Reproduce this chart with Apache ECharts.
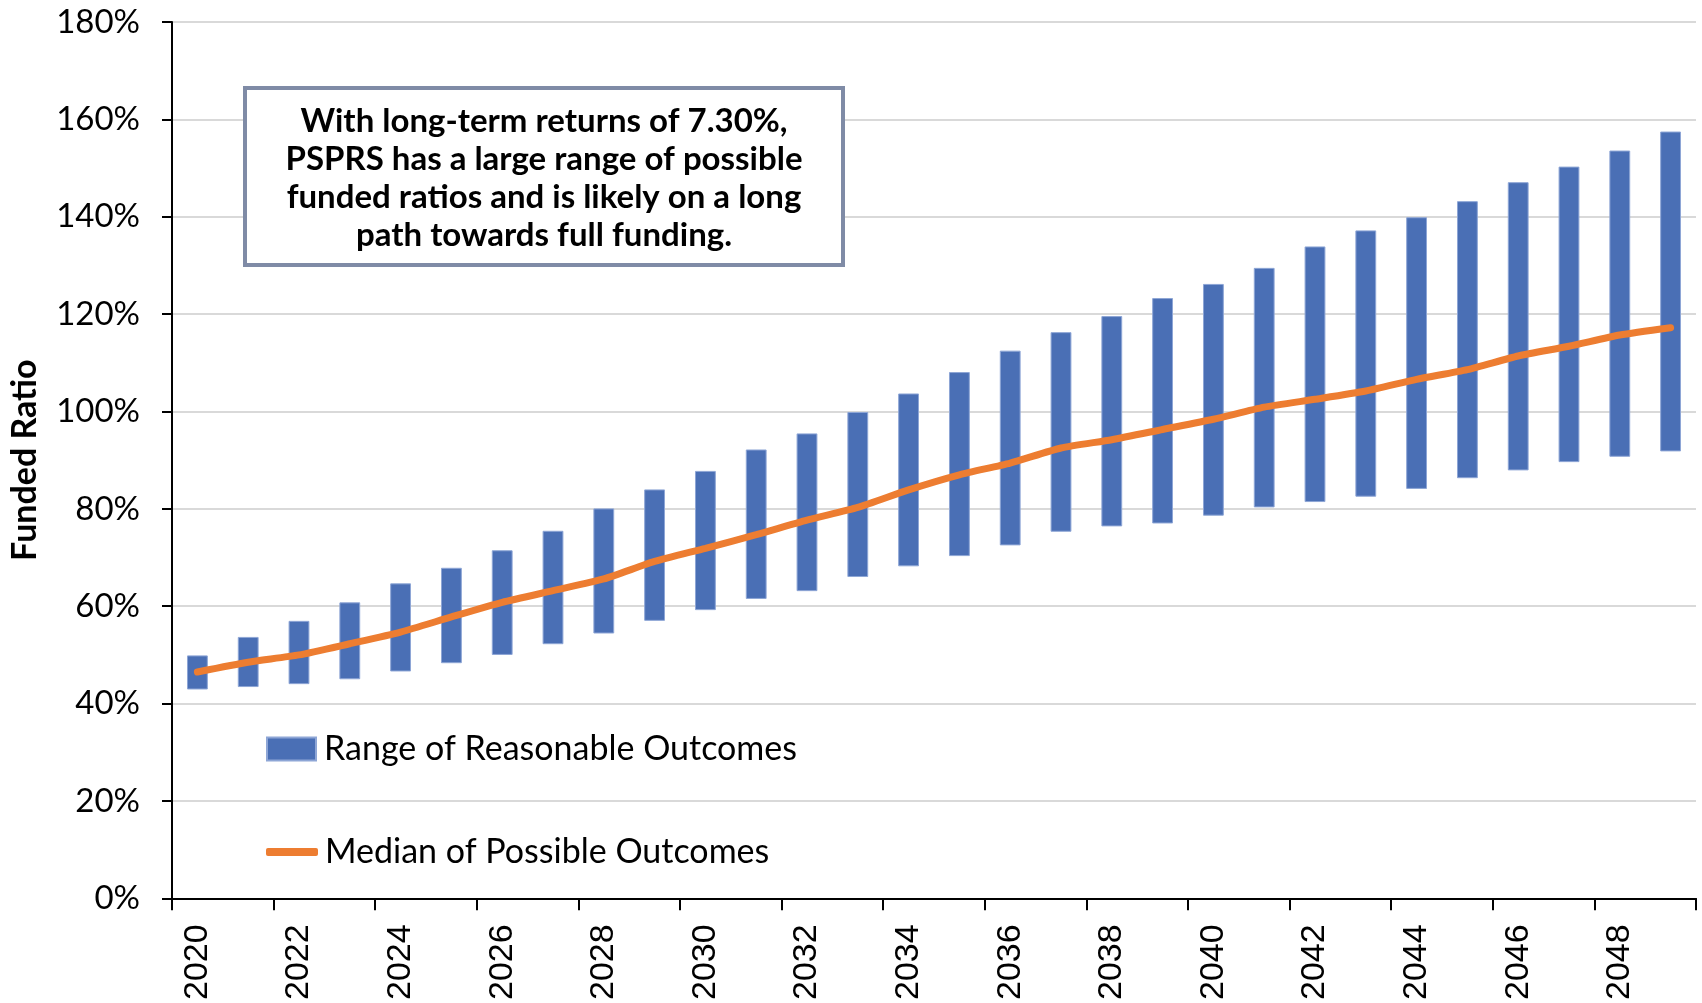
<!DOCTYPE html>
<html>
<head>
<meta charset="utf-8">
<script src="https://cdn.jsdelivr.net/npm/echarts@6/dist/echarts.min.js"></script>
<style>
  html, body { margin: 0; padding: 0; background: #fff; }
  #chart { width: 1702px; height: 1003px; }
</style>
</head>
<body>
<div id="chart"></div>
<script>
var years = ['2020', '2021', '2022', '2023', '2024', '2025', '2026', '2027', '2028', '2029',
  '2030', '2031', '2032', '2033', '2034', '2035', '2036', '2037', '2038', '2039',
  '2040', '2041', '2042', '2043', '2044', '2045', '2046', '2047', '2048', '2049']

// range of reasonable outcomes (funded ratio, %)
var low = [42.9, 43.4, 44.0, 45.0, 46.6, 48.3, 50.0, 52.2, 54.4, 57.0,
  59.2, 61.5, 63.1, 66.0, 68.2, 70.3, 72.5, 75.3, 76.4, 77.0,
  78.6, 80.3, 81.4, 82.5, 84.1, 86.3, 87.9, 89.6, 90.7, 91.8]
var high = [49.9, 53.7, 57.0, 60.8, 64.7, 67.9, 71.5, 75.5, 80.1, 84.0,
  87.8, 92.2, 95.5, 99.9, 103.7, 108.1, 112.5, 116.3, 119.6, 123.3,
  126.2, 129.5, 133.9, 137.2, 139.9, 143.2, 147.1, 150.3, 153.6, 157.5]
// median of possible outcomes
var median = [46.5, 48.5, 50.0, 52.3, 54.7, 57.8, 60.8, 63.2, 65.6, 69.2,
  71.9, 74.7, 77.7, 80.3, 83.9, 87.0, 89.4, 92.5, 94.2, 96.3,
  98.4, 100.9, 102.5, 104.2, 106.6, 108.6, 111.4, 113.4, 115.7, 117.2]

var noteLines = [
  'With long-term returns of 7.30%,',
  'PSPRS has a large range of possible',
  'funded ratios and is likely on a long',
  'path towards full funding.'
]

var span = []
for (let i = 0; i < low.length; i++) {
  span.push(+(high[i] - low[i]).toFixed(1))
}

var myChart = echarts.init(document.getElementById('chart'))
var option = {
  animation: false,
  grid: {
    left: 170,
    right: 6,
    top: 22,
    bottom: 104
  },
  legend: [{
    data: ['Range of Reasonable Outcomes'],
    left: 266,
    top: 732,
    padding: 0,
    itemWidth: 49,
    itemHeight: 23,
    icon: 'rect',
    textStyle: { fontFamily: 'Lato', fontSize: 34, color: '#000', padding: [0, 0, 0, 3] }
  }, {
    data: ['Median of Possible Outcomes'],
    left: 266,
    top: 835,
    padding: 0,
    itemWidth: 52,
    itemHeight: 8,
    icon: 'roundRect',
    textStyle: { fontFamily: 'Lato', fontSize: 34, color: '#000', padding: [0, 0, 0, 2] }
  }],
  xAxis: {
    type: 'category',
    data: years,
    axisLine: { lineStyle: { color: '#000', width: 2 } },
    axisTick: { show: true, length: 12, lineStyle: { color: '#000', width: 2 } },
    axisLabel: {
      rotate: 90,
      interval: 1,
      margin: 26,
      fontFamily: 'Liberation Sans',
      fontSize: 34,
      color: '#000'
    }
  },
  yAxis: {
    type: 'value',
    min: 0,
    max: 180,
    interval: 20,
    name: 'Funded Ratio',
    nameLocation: 'middle',
    nameGap: 130,
    nameTextStyle: { fontFamily: 'Lato', fontWeight: 'bold', fontSize: 34, color: '#000' },
    axisLine: { show: true, lineStyle: { color: '#000', width: 2 } },
    axisTick: { show: true, length: 10, lineStyle: { color: '#000', width: 2 } },
    axisLabel: {
      formatter: '{value}%',
      margin: 32,
      fontFamily: 'Lato',
      fontSize: 33,
      color: '#000'
    },
    splitLine: { lineStyle: { color: '#d9d9d9', width: 2 } }
  },
  series: [{
    name: 'base',
    type: 'bar',
    stack: 'range',
    data: low,
    barWidth: '41%',
    itemStyle: { color: 'transparent' },
    silent: true
  }, {
    name: 'Range of Reasonable Outcomes',
    type: 'bar',
    stack: 'range',
    data: span,
    barWidth: '41%',
    itemStyle: { color: '#4a6fb5', borderColor: '#8ea6d6', borderWidth: 1 }
  }, {
    name: 'Median of Possible Outcomes',
    type: 'line',
    data: median,
    smooth: 0.2,
    symbol: 'none',
    z: 5,
    lineStyle: { color: '#ed7d31', width: 7, cap: 'round' },
    itemStyle: { color: '#ed7d31' }
  }],
  graphic: [{
    type: 'group',
    left: 243,
    top: 86,
    z: 100,
    children: [{
      type: 'rect',
      z: 100,
      shape: { x: 0, y: 0, width: 598, height: 177 },
      style: { fill: '#fff', stroke: '#7f8ba6', lineWidth: 4 }
    }, {
      type: 'text',
      z: 101,
      style: {
        text: noteLines.join('\n'),
        x: 299,
        y: 90,
        align: 'center',
        verticalAlign: 'middle',
        fontFamily: 'Lato',
        fontWeight: 'bold',
        fontSize: 33,
        lineHeight: 38,
        fill: '#000'
      }
    }]
  }]
}
myChart.setOption(option)
</script>
</body>
</html>
